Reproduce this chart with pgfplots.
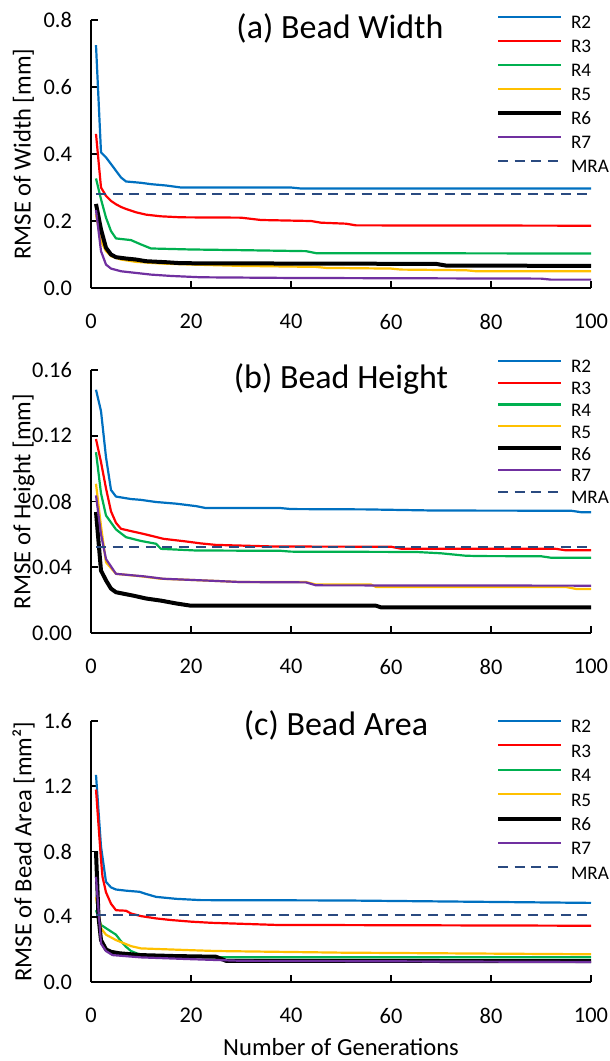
\documentclass[border=0pt]{standalone}
\usepackage{fontspec}
\setmainfont{Carlito}
\usepackage{pgfplots}
\pgfplotsset{compat=1.18}
\definecolor{cR2}{HTML}{0070C0}
\definecolor{cR3}{HTML}{FF0000}
\definecolor{cR4}{HTML}{00B050}
\definecolor{cR5}{HTML}{FFC000}
\definecolor{cR7}{HTML}{7030A0}
\definecolor{cMRA}{HTML}{2A4A80}
\pgfplotsset{
  panel/.style={
    scale only axis, width=250pt, xmin=0, xmax=100, ymin=0,
    axis x line=bottom, axis y line=left,
    axis line style={-, line width=0.9pt, black},
    xtick={0,20,40,60,80,100},
    tick style={black, line width=0.9pt}, major tick length=3.3pt, tick align=inside,
    /pgf/number format/assume math mode=true,
    tick label style={font=\fontsize{11.2}{13}\selectfont},
    label style={font=\fontsize{12.3}{14}\selectfont},
    xticklabel shift=9.5pt, yticklabel shift=6pt,
    ylabel style={at={(axis description cs:-0.135,0.5)}, anchor=center},
    legend cell align=left,
    legend image code/.code={\draw[##1] (0pt,3pt) -- (31.5pt,3pt);},
    legend style={draw=none, fill=none, anchor=north west, inner sep=0pt, outer sep=0pt,
      font=\fontsize{9.6}{12}\selectfont,
      nodes={inner sep=0pt, text height=7pt, text depth=1pt}, column sep=4pt},
    title style={font=\fontsize{17}{20}\selectfont, anchor=center},
    every axis plot/.append style={line join=round},
  },
  s2/.style={cR2, line width=1.1pt},
  s3/.style={cR3, line width=1.1pt},
  s4/.style={cR4, line width=1.1pt},
  s5/.style={cR5, line width=1.1pt},
  s6/.style={black, line width=2pt},
  s7/.style={cR7, line width=1.1pt},
  sM/.style={cMRA, line width=1pt, dash pattern=on 5pt off 3.3pt},
}
\begin{document}
\begin{tikzpicture}
% ---------------- (a)
\begin{axis}[panel, at={(45.5pt,-144pt)}, anchor=south west, height=134pt,
  ymax=0.8, ytick={0,0.2,0.4,0.6,0.8},
  yticklabel style={/pgf/number format/.cd, fixed, fixed zerofill, precision=1},
  ylabel={RMSE of Width [mm]},
  title={(a) Bead Width}, title style={at={(axis description cs:0.498,0.925)}},
  legend style={at={(axis description cs:0.81,1.019)}, row sep=4pt}]
\addplot[s2] coordinates {(1,0.725) (2,0.405) (3,0.39) (4,0.37) (5,0.35) (6,0.33) (7,0.318) (10,0.314) (12,0.31) (15,0.306) (18,0.30) (40,0.30) (42,0.297) (100,0.297)};
\addplot[s3] coordinates {(1,0.46) (2,0.30) (3,0.275) (4,0.26) (5,0.25) (6,0.242) (7,0.236) (9,0.226) (11,0.219) (14,0.214) (18,0.211) (30,0.21) (34,0.203) (44,0.2) (46,0.195) (51,0.192) (53,0.187) (100,0.186)};
\addplot[s4] coordinates {(1,0.327) (2,0.265) (3,0.21) (4,0.17) (5,0.148) (8,0.143) (10,0.13) (12,0.118) (20,0.115) (30,0.113) (43,0.11) (45,0.104) (100,0.103)};
\addplot[s5] coordinates {(1,0.22) (2,0.14) (3,0.11) (4,0.095) (6,0.085) (9,0.078) (14,0.073) (20,0.07) (30,0.066) (45,0.063) (47,0.06) (60,0.058) (62,0.055) (75,0.053) (77,0.05) (100,0.05)};
\addplot[s6] coordinates {(1,0.251) (2,0.175) (3,0.12) (4,0.1) (5,0.092) (7,0.088) (9,0.085) (11,0.08) (15,0.077) (18,0.074) (40,0.073) (69,0.072) (71,0.067) (100,0.066)};
\addplot[s7] coordinates {(1,0.233) (2,0.11) (3,0.07) (4,0.058) (6,0.05) (9,0.045) (12,0.04) (16,0.036) (22,0.032) (40,0.03) (90,0.028) (92,0.025) (100,0.025)};
\addplot[sM] coordinates {(1,0.28) (100,0.28)};
\legend{R2,R3,R4,R5,R6,R7,MRA}
\end{axis}
% ---------------- (b)
\begin{axis}[panel, at={(45.5pt,-316.5pt)}, anchor=south west, height=131.5pt,
  ymax=0.16, ytick={0,0.04,0.08,0.12,0.16},
  yticklabel style={/pgf/number format/.cd, fixed, fixed zerofill, precision=2},
  ylabel={RMSE of Height [mm]},
  title={(b) Bead Height}, title style={at={(axis description cs:0.5,0.920)}},
  legend style={at={(axis description cs:0.81,1.042)}, row sep=2.9pt}]
\addplot[s2] coordinates {(1,0.148) (2,0.135) (3,0.107) (4,0.087) (5,0.083) (8,0.0815) (10,0.081) (13,0.0797) (17,0.0787) (21,0.0772) (23,0.076) (38,0.076) (40,0.0754) (55,0.0752) (69,0.0745) (96,0.0744) (98,0.0735) (100,0.0735)};
\addplot[s3] coordinates {(1,0.118) (2,0.104) (3,0.088) (4,0.074) (5,0.067) (6,0.0634) (8,0.062) (10.5,0.0603) (14.5,0.0573) (19,0.0557) (22,0.0545) (25,0.0536) (37,0.0526) (60,0.0525) (62,0.0513) (93,0.0512) (95,0.0503) (100,0.0503)};
\addplot[s4] coordinates {(1,0.11) (2,0.085) (3,0.0715) (5,0.063) (7,0.0583) (10,0.056) (13,0.0543) (14,0.0512) (21,0.0502) (38,0.05) (40,0.0495) (65,0.0493) (70,0.0485) (75,0.047) (78,0.0468) (90,0.0467) (92,0.0458) (100,0.0458)};
\addplot[s5] coordinates {(1,0.0908) (2,0.065) (3,0.043) (5,0.036) (10,0.0345) (14,0.033) (24,0.0318) (30,0.031) (43,0.031) (45,0.0295) (56,0.0295) (57,0.028) (95,0.028) (97,0.0268) (100,0.0268)};
\addplot[s6] coordinates {(1,0.0736) (2,0.038) (3,0.032) (4,0.027) (5,0.0248) (8.5,0.0227) (11,0.021) (14,0.0197) (17,0.018) (20,0.0166) (57,0.0166) (58,0.0156) (100,0.0156)};
\addplot[s7] coordinates {(1,0.0837) (2,0.06) (3,0.045) (5,0.036) (10.5,0.0345) (14.5,0.033) (24,0.0318) (30,0.031) (43,0.0308) (45,0.029) (100,0.0288)};
\addplot[sM] coordinates {(1,0.0523) (100,0.0523)};
\legend{R2,R3,R4,R5,R6,R7,MRA}
\end{axis}
% ---------------- (c)
\begin{axis}[panel, at={(45.5pt,-491pt)}, anchor=south west, height=130.5pt,
  ymax=1.6, ytick={0,0.4,0.8,1.2,1.6},
  yticklabel style={/pgf/number format/.cd, fixed, fixed zerofill, precision=1},
  ylabel={RMSE of Bead Area [mm²]},
  xlabel={Number of Generations},
  xlabel style={at={(axis description cs:0.5,-0.249)}, anchor=center},
  title={(c) Bead Area}, title style={at={(axis description cs:0.49,0.939)}},
  legend style={at={(axis description cs:0.81,1.008)}, row sep=4.2pt}]
\addplot[s2] coordinates {(1,1.27) (2,0.83) (3,0.614) (4,0.58) (5,0.567) (7,0.56) (9.7,0.553) (11,0.54) (13,0.522) (17,0.51) (22,0.502) (50,0.50) (100,0.485)};
\addplot[s3] coordinates {(1,1.18) (2,0.75) (2.3,0.645) (3,0.55) (4,0.48) (5,0.44) (7,0.437) (8,0.42) (10,0.404) (13,0.39) (16,0.38) (20,0.37) (24,0.363) (37,0.35) (100,0.345)};
\addplot[s4] coordinates {(1,0.44) (2,0.35) (3,0.33) (5,0.29) (6,0.25) (7,0.216) (8,0.19) (10,0.165) (15,0.155) (25,0.152) (100,0.152)};
\addplot[s5] coordinates {(1,0.52) (2,0.33) (3,0.29) (5,0.257) (8,0.22) (10,0.206) (20,0.195) (25,0.19) (50,0.18) (100,0.17)};
\addplot[s6] coordinates {(1,0.8) (1.5,0.4) (2,0.257) (3,0.2) (4,0.185) (5.7,0.176) (10,0.165) (17,0.159) (25,0.155) (27,0.13) (100,0.128)};
\addplot[s7] coordinates {(1,0.645) (2,0.236) (3,0.19) (4.3,0.165) (10,0.151) (20,0.14) (30,0.13) (100,0.123)};
\addplot[sM] coordinates {(1,0.41) (100,0.41)};
\legend{R2,R3,R4,R5,R6,R7,MRA}
\end{axis}
\pgfresetboundingbox
\path (0,0) rectangle (305pt,-530.5pt);
\end{tikzpicture}
\end{document}
